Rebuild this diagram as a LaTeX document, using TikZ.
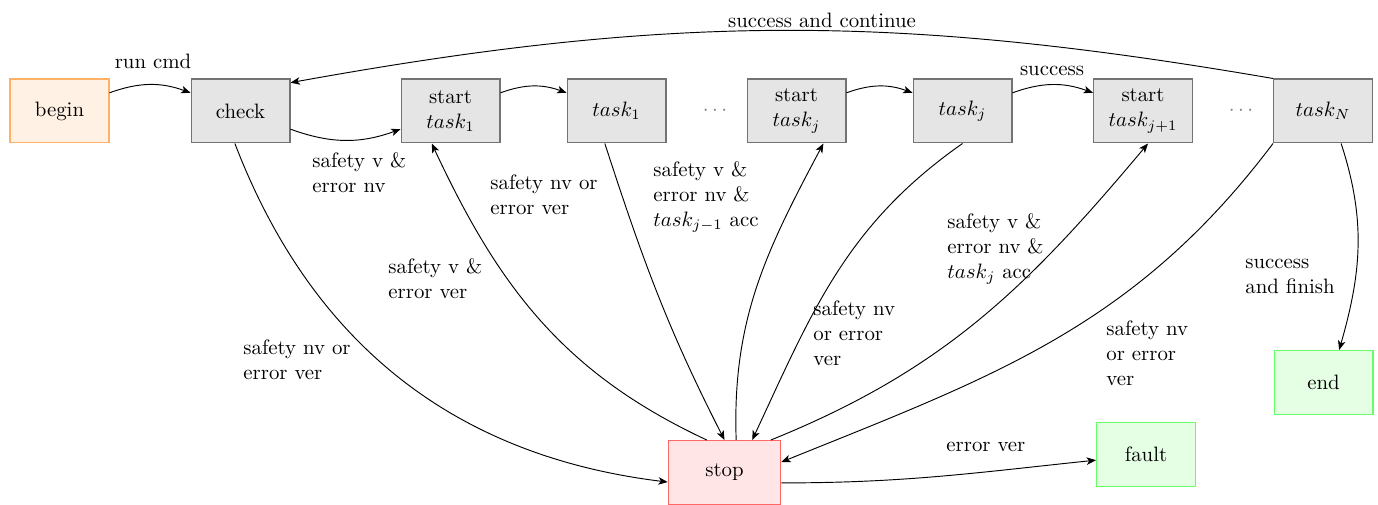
\documentclass[tikz,border=0pt]{standalone}
\usetikzlibrary{arrows.meta}
\begin{document}
\begin{tikzpicture}[x=0.48pt,y=0.48pt,
  base/.style={minimum width=47.5pt, minimum height=30.7pt, inner sep=2pt, align=center, line width=0.5pt},
  box/.style={base, draw=black!55, fill=black!10},
  startbox/.style={base, draw=orange!60, fill=orange!10},
  stopbox/.style={base, draw=red!60, fill=red!10, minimum width=54pt},
  endbox/.style={base, draw=green!60, fill=green!10},
  dotsnode/.style={text=gray},
  lbl/.style={inner sep=0pt, align=left, anchor=west},
  clbl/.style={inner sep=0pt},
  arr/.style={-{Stealth[length=4.5pt,width=3.6pt,inset=1.2pt]}, line width=0.45pt},
]
\useasboundingbox (0,0) rectangle (1378,-505);

% nodes
\node[startbox] (begin) at (59.5,-111) {begin};
\node[box] (check) at (240.5,-111) {check};
\node[box] (st1) at (450.5,-111) {start\\$task_1$};
\node[box] (t1) at (616.5,-111) {$task_1$};
\node[dotsnode] (d1) at (715,-111) {$\cdots$};
\node[box] (stj) at (796.5,-111) {start\\$task_j$};
\node[box] (tj) at (962.5,-111) {$task_j$};
\node[box] (stj1) at (1143,-111) {start\\$task_{j+1}$};
\node[dotsnode] (d2) at (1241,-111) {$\cdots$};
\node[box] (tN) at (1323,-111) {$task_N$};
\node[endbox] (end) at (1323.5,-382.5) {end};
\node[endbox] (fault) at (1146,-454.5) {fault};
\node[stopbox] (stop) at (724.5,-472.5) {stop};

% labels
\node[clbl] (lrun) at (153,-61) {run cmd};
\node[clbl] (lsucc) at (1052,-71) {success};
\node[clbl] (lcont) at (822,-20) {success and continue};
\node[lbl] (l1) at (312,-172.5) {safety v \&\\error nv};
\node[lbl] (l2) at (243,-360) {safety nv or\\error ver};
\node[lbl] (l3) at (388,-279) {safety v \&\\error ver};
\node[lbl] (l4) at (490,-194.5) {safety nv or\\error ver};
\node[lbl] (l5) at (653,-197) {safety v \&\\error nv \&\\$task_{j-1}$ acc};
\node[lbl] (l6) at (813,-333) {safety nv\\or error\\ver};
\node[lbl] (l7) at (947,-249) {safety v \&\\error nv \&\\$task_j$ acc};
\node[lbl] (l8) at (1106,-353) {safety nv\\or error\\ver};
\node[lbl] (l9) at (1245,-276) {success\\and finish};
\node[lbl] (l10) at (946,-447) {error ver};

% connectors
\draw[arr] (begin) to[bend left=20] (check);
\draw[arr] (check) to[bend right=20] (st1);
\draw[arr] (st1) to[bend left=20] (t1);
\draw[arr] (stj) to[bend left=20] (tj);
\draw[arr] (tj) to[bend left=20] (stj1);
\draw[arr] (tN.north west) to[bend right=10] ([yshift=-2pt]check.north east);
\draw[arr] ([xshift=-2.7pt]check.south) to[out=-69,in=173] ([yshift=-4.6pt]stop.west);
\draw[arr] ([xshift=-8.5pt]stop.north) to[out=155,in=-65] ([xshift=-9pt]st1.south);
\draw[arr] ([xshift=-5.6pt]t1.south) to[out=-72,in=117] (stop.north);
\draw[arr] ([xshift=5.6pt]stop.north) to[out=92,in=-118] ([xshift=12.9pt]stj.south);
\draw[arr] (tj.south) to[out=-145,in=65] ([xshift=13.3pt]stop.north);
\draw[arr] ([xshift=-5pt]stop.north east) to[out=22,in=-130] ([xshift=2.4pt]stj1.south);
\draw[arr] (tN.south west) to[out=-127,in=22] ([yshift=5pt]stop.east);
\draw[arr] ([xshift=8.7pt]tN.south) to[out=-72,in=74] ([xshift=7.5pt]end.north);
\draw[arr] ([yshift=-5pt]stop.east) to[out=0,in=186] ([yshift=-2.7pt]fault.west);
\end{tikzpicture}
\end{document}
